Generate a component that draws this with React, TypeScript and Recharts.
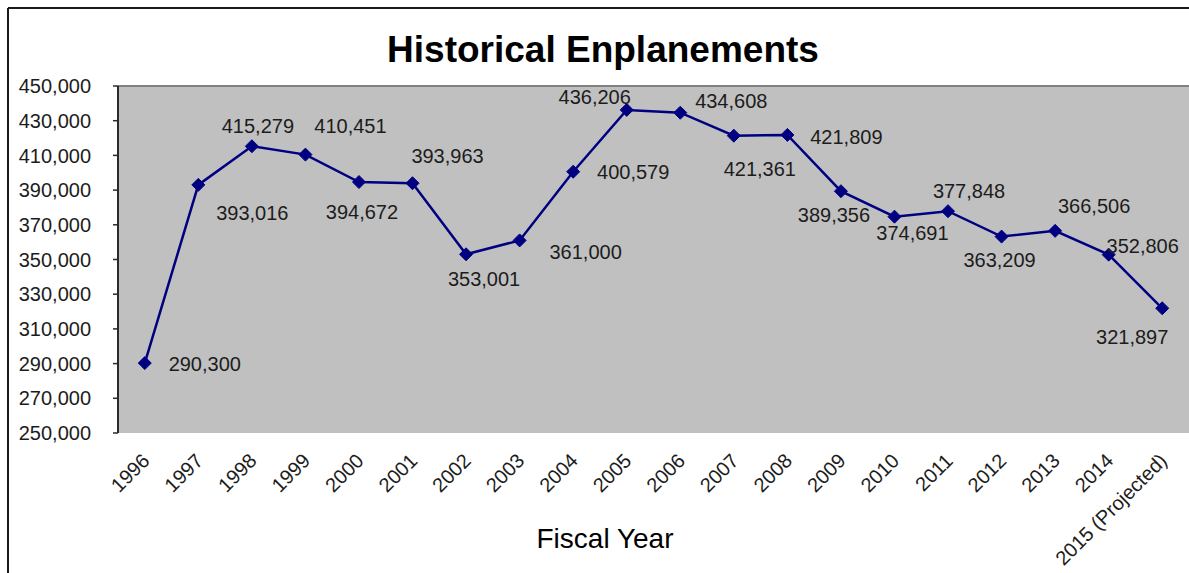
import React from 'react'
import {
  LineChart,
  Line,
  XAxis,
  YAxis,
  CartesianGrid,
  ReferenceLine
} from 'recharts'

// fiscal years and enplanement counts
const years = [
  '1996', '1997', '1998', '1999', '2000', '2001', '2002', '2003', '2004', '2005',
  '2006', '2007', '2008', '2009', '2010', '2011', '2012', '2013', '2014', '2015 (Projected)'
]
const enplanements = [
  290300, 393016, 415279, 410451, 394672, 393963, 353001, 361000, 400579, 436206,
  434608, 421361, 421809, 389356, 374691, 377848, 363209, 366506, 352806, 321897
]
const yTicks = [250000, 270000, 290000, 310000, 330000, 350000, 370000, 390000, 410000, 430000, 450000]

// where each data label sits relative to its point (labels were hand-placed in the original)
const labelOffsets = [
  [60, 1], [54, 28], [6, -20], [45, -29], [3, 30], [35, -27], [18, 25], [66, 12], [60, 0], [-32, -13],
  [51, -12], [26, 33], [59, 2], [-7, 24], [18, 16], [21, -20], [-2, 23], [39, -25], [34, -9], [-30, 29]
]

const FONT = '"Liberation Sans", Arial, sans-serif'
const TEXT = '#1c1c1c'
const NAVY = '#000080'

const fmt = (v: number) => v.toLocaleString('en-US')

function Diamond(props: any) {
  const { cx, cy, index } = props
  if (cx == null || cy == null) return null
  const r = 6.5
  return (
    <path
      key={`d-${index}`}
      d={`M${cx},${cy - r} L${cx + r},${cy} L${cx},${cy + r} L${cx - r},${cy} Z`}
      fill={NAVY}
      stroke={NAVY}
      strokeWidth={1}
    />
  )
}

function PointLabel(props: any) {
  const { x, y, value, index } = props
  const [dx, dy] = labelOffsets[index] || [0, -15]
  return (
    <text
      x={x + dx}
      y={y + dy}
      textAnchor="middle"
      dominantBaseline="central"
      fontFamily={FONT}
      fontSize={20}
      fill={TEXT}
    >
      {fmt(Number(value))}
    </text>
  )
}

function YearTick(props: any) {
  const { x, y, payload } = props
  const ax = x + 6
  const ay = y + 29
  return (
    <text
      x={ax}
      y={ay}
      transform={`rotate(-45 ${ax} ${ay})`}
      textAnchor="end"
      fontFamily={FONT}
      fontSize={20}
      fill={TEXT}
    >
      {years[payload.value]}
    </text>
  )
}

export default function App() {
  const data = years.map((year, i) => ({ year, idx: i, value: enplanements[i] }))
  const boundaryTicks = years.map((_, i) => i - 0.5)
  const centerTicks = years.map((_, i) => i)

  return (
    <div style={{ position: 'absolute', left: 0, top: 0, width: 1189, height: 573, background: '#fff', overflow: 'hidden' }}>
      <LineChart
        width={1189}
        height={573}
        data={data}
        margin={{ top: 86, right: 0, left: 0, bottom: 0 }}
      >
        <CartesianGrid xAxisId="years" fill="#C0C0C0" horizontal={false} vertical={false} />
        <XAxis
          xAxisId="marks"
          dataKey="idx"
          type="number"
          domain={[-0.5, 19.5]}
          ticks={boundaryTicks}
          interval={0}
          tick={false}
          tickSize={6}
          height={0}
          axisLine={{ stroke: '#2a2a2a', strokeWidth: 2 }}
          tickLine={{ stroke: '#2a2a2a', strokeWidth: 1.5 }}
        />
        <XAxis
          xAxisId="years"
          dataKey="idx"
          type="number"
          domain={[-0.5, 19.5]}
          ticks={centerTicks}
          interval={0}
          height={140}
          axisLine={false}
          tickLine={false}
          tickSize={0}
          tickMargin={0}
          tick={<YearTick />}
        />
        <YAxis
          type="number"
          domain={[250000, 450000]}
          ticks={yTicks}
          interval={0}
          width={118}
          tickSize={5}
          tickMargin={22}
          tickFormatter={fmt}
          axisLine={{ stroke: '#2a2a2a', strokeWidth: 2 }}
          tickLine={{ stroke: '#2a2a2a', strokeWidth: 1.5 }}
          tick={{ fontFamily: FONT, fontSize: 20, fill: TEXT }}
        />
        <ReferenceLine xAxisId="years" y={450000} stroke="#808080" strokeWidth={2} />
        <Line
          xAxisId="years"
          type="linear"
          dataKey="value"
          stroke={NAVY}
          strokeWidth={2.5}
          dot={(p: any) => <Diamond key={`dot-${p.index}`} {...p} />}
          activeDot={false}
          label={(p: any) => <PointLabel key={`lab-${p.index}`} {...p} />}
          isAnimationActive={false}
        />
      </LineChart>
      <svg
        width={1189}
        height={573}
        style={{ position: 'absolute', left: 0, top: 0, pointerEvents: 'none' }}
      >
        <line x1={8} y1={8} x2={1189} y2={8} stroke="#1a1a1a" strokeWidth={2} />
        <line x1={8} y1={8} x2={8} y2={573} stroke="#1a1a1a" strokeWidth={2} />
        <text x={603} y={62} textAnchor="middle" fontFamily={FONT} fontSize={37} fontWeight="bold" fill="#000">
          Historical Enplanements
        </text>
        <text x={605} y={548} textAnchor="middle" fontFamily={FONT} fontSize={28} fill="#000">
          Fiscal Year
        </text>
      </svg>
    </div>
  )
}
